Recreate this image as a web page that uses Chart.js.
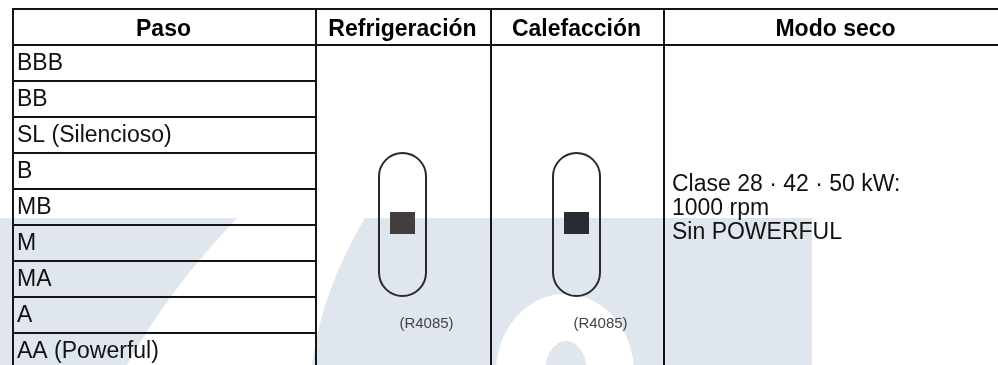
<!DOCTYPE html>
<html lang="es">
<head>
<meta charset="utf-8">
<title>Paso del ventilador</title>
<script src="https://cdn.jsdelivr.net/npm/chart.js@4.4.1/dist/chart.umd.min.js"></script>
<style>
  html, body { margin: 0; padding: 0; background: #fff; overflow: hidden; }
  #wrap { width: 998px; height: 365px; overflow: hidden; }
</style>
</head>
<body>
<div id="wrap"><canvas id="myChart" width="998" height="370"></canvas></div>
<script>
// table content
const headers = ['Paso', 'Refrigeración', 'Calefacción', 'Modo seco'];
const steps = ['BBB', 'BB', 'SL (Silencioso)', 'B', 'MB', 'M', 'MA', 'A', 'AA (Powerful)'];
const switchSpan = ['B', 'MA'];      // steps covered by the switch drawing
const switchStep = 'M';              // knob sits on the upper edge of this step
const switchCodes = ['(R4085)', '(R4085)'];
const dryMode = ['Clase 28 · 42 · 50 kW:', '1000 rpm', 'Sin POWERFUL'];

// layout
const colWidths = [303, 175, 173, 345];
const FONT = '"Liberation Sans", Arial, Helvetica, sans-serif';
const LINE = '#141414';

const rows = [headers[0]].concat(steps);

const datasets = headers.map((h, c) => ({
  label: h,
  data: rows.map(() => colWidths[c]),
  backgroundColor: 'rgba(0,0,0,0)',
  borderColor: LINE,
  borderSkipped: false,
  inflateAmount: 0,
  borderWidth: (ctx) => {
    const r = ctx.dataIndex;
    // merged cells (columns 1..3) only get a top line under the header
    const top = c === 0 || r <= 1 ? 2 : 0;
    return { left: 2, top: top, right: 0, bottom: 0 };
  },
}));

function cell(chart, col, row) {
  const el = chart.getDatasetMeta(col).data[row];
  return {
    left: Math.min(el.base, el.x),
    right: Math.max(el.base, el.x),
    top: el.y - el.height / 2,
    bottom: el.y + el.height / 2,
    cx: (el.base + el.x) / 2,
    cy: el.y,
  };
}

// light logo behind the table
const watermark = {
  id: 'watermark',
  beforeDatasetsDraw(chart) {
    const ctx = chart.ctx;
    ctx.save();
    ctx.fillStyle = '#dfe6ee';
    ctx.fillRect(0, 218, 812, 160);
    ctx.fillStyle = '#ffffff';
    ctx.beginPath();
    ctx.moveTo(237, 218);
    ctx.quadraticCurveTo(168, 290.5, 127, 365);
    ctx.lineTo(124, 372);
    ctx.lineTo(310, 372);
    ctx.lineTo(312, 365);
    ctx.quadraticCurveTo(321.5, 290.5, 365, 218);
    ctx.closePath();
    ctx.fill();
    ctx.beginPath();
    ctx.ellipse(565, 372, 69, 78, 0, 0, Math.PI * 2);
    ctx.fill();
    ctx.fillStyle = '#dfe6ee';
    ctx.beginPath();
    ctx.ellipse(566, 372, 21, 31, 0, 0, Math.PI * 2);
    ctx.fill();
    ctx.restore();
  },
};

const tableText = {
  id: 'tableText',
  afterDatasetsDraw(chart) {
    const ctx = chart.ctx;
    ctx.save();

    // header row
    ctx.fillStyle = '#000';
    ctx.font = 'bold 23px ' + FONT;
    ctx.textAlign = 'center';
    ctx.textBaseline = 'alphabetic';
    headers.forEach((h, c) => {
      const b = cell(chart, c, 0);
      ctx.fillText(h, b.cx, b.cy + 10);
    });

    // step names
    ctx.font = '23px ' + FONT;
    ctx.textAlign = 'left';
    ctx.fillStyle = '#111';
    steps.forEach((s, i) => {
      const b = cell(chart, 0, i + 1);
      ctx.fillText(s, b.left + 5, b.cy + 8);
    });

    // dry mode text, centred in the merged cell
    const first = cell(chart, 3, 1);
    const last = cell(chart, 3, rows.length - 1);
    const mid = (first.top + last.bottom) / 2;
    dryMode.forEach((t, i) => {
      ctx.fillText(t, first.left + 9, mid - 15 + i * 24);
    });

    // fan switch drawings
    const r0 = rows.indexOf(switchSpan[0]);
    const r1 = rows.indexOf(switchSpan[1]);
    const rk = rows.indexOf(switchStep);
    [1, 2].forEach((c, k) => {
      const top = cell(chart, c, r0).top + 1;
      const bottom = cell(chart, c, r1).bottom;
      const cx = cell(chart, c, r0).cx;
      const w = 47, rad = w / 2;
      ctx.strokeStyle = '#2a2a2a';
      ctx.lineWidth = 2;
      ctx.beginPath();
      ctx.arc(cx, top + rad, rad, Math.PI, 0);
      ctx.lineTo(cx + rad, bottom - rad);
      ctx.arc(cx, bottom - rad, rad, 0, Math.PI);
      ctx.closePath();
      ctx.stroke();

      const ky = cell(chart, c, rk).top - 1;
      ctx.fillStyle = k === 0 ? '#433e3e' : '#282c32';
      ctx.fillRect(cx - 12.5, ky - 11, 25, 22);

      const lab = cell(chart, c, r1 + 1);
      ctx.fillStyle = '#444';
      ctx.font = '15px ' + FONT;
      ctx.textAlign = 'center';
      ctx.fillText(switchCodes[k], cx + 24, lab.top + 32);
    });

    ctx.restore();
  },
};

const config = {
  type: 'bar',
  data: { labels: rows, datasets: datasets },
  options: {
    indexAxis: 'y',
    responsive: false,
    animation: false,
    events: [],
    layout: { padding: { top: 8, bottom: 2, left: 0, right: 0 } },
    datasets: { bar: { barPercentage: 1, categoryPercentage: 1 } },
    plugins: { legend: { display: false }, tooltip: { enabled: false } },
    scales: {
      x: { type: 'linear', stacked: true, min: -12, max: 986, display: false },
      y: { type: 'category', stacked: true, display: false },
    },
  },
  plugins: [watermark, tableText],
};

const myChart = new Chart(document.getElementById('myChart'), config);
</script>
</body>
</html>
